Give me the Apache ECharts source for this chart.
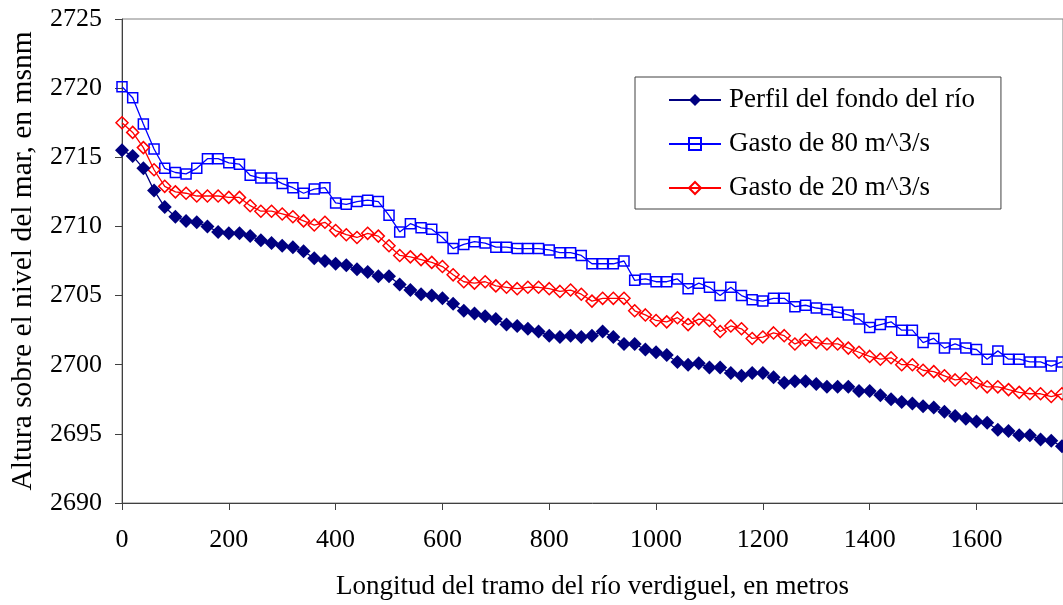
<!DOCTYPE html>
<html>
<head>
<meta charset="utf-8">
<script src="https://cdn.jsdelivr.net/npm/echarts@6/dist/echarts.min.js"></script>
<style>
html,body{margin:0;padding:0;background:#fff;}
#chart{width:1063px;height:605px;}
</style>
</head>
<body>
<div id="chart"></div>
<script>
// distances along the river, metres
var distances = [0,20,40,60,80,100,120,140,160,180,200,220,240,260,280,300,320,340,360,380,
400,420,440,460,480,500,520,540,560,580,600,620,640,660,680,700,720,740,760,780,
800,820,840,860,880,900,920,940,960,980,1000,1020,1040,1060,1080,1100,1120,1140,1160,1180,
1200,1220,1240,1260,1280,1300,1320,1340,1360,1380,1400,1420,1440,1460,1480,1500,1520,1540,1560,1580,
1600,1620,1640,1660,1680,1700,1720,1740,1760];

var fondo = [2715.5,2715.1,2714.2,2712.6,2711.4,2710.7,2710.4,2710.3,2710.0,2709.6,
2709.5,2709.5,2709.3,2709.0,2708.8,2708.6,2708.5,2708.2,2707.7,2707.5,
2707.3,2707.2,2706.9,2706.7,2706.4,2706.4,2705.8,2705.4,2705.1,2705.0,
2704.8,2704.4,2703.9,2703.7,2703.5,2703.3,2702.9,2702.8,2702.6,2702.4,
2702.1,2702.0,2702.1,2702.0,2702.1,2702.4,2702.0,2701.5,2701.5,2701.1,
2700.9,2700.7,2700.2,2700.0,2700.1,2699.8,2699.8,2699.4,2699.2,2699.4,
2699.4,2699.1,2698.7,2698.8,2698.8,2698.6,2698.4,2698.4,2698.4,2698.1,
2698.1,2697.8,2697.5,2697.3,2697.2,2697.0,2696.9,2696.6,2696.3,2696.1,
2695.9,2695.8,2695.3,2695.2,2694.9,2694.9,2694.6,2694.5,2694.1];

var gasto80 = [2720.1,2719.3,2717.4,2715.6,2714.2,2713.9,2713.8,2714.2,2714.9,2714.9,
2714.6,2714.5,2713.7,2713.5,2713.5,2713.1,2712.8,2712.4,2712.7,2712.8,
2711.7,2711.6,2711.8,2711.9,2711.8,2710.8,2709.6,2710.2,2709.9,2709.8,
2709.2,2708.4,2708.7,2708.9,2708.8,2708.5,2708.5,2708.4,2708.4,2708.4,
2708.3,2708.1,2708.1,2707.9,2707.3,2707.3,2707.3,2707.5,2706.1,2706.2,
2706.0,2706.0,2706.2,2705.5,2705.9,2705.6,2705.0,2705.6,2705.0,2704.7,
2704.6,2704.8,2704.8,2704.2,2704.3,2704.1,2704.0,2703.8,2703.6,2703.3,
2702.7,2702.9,2703.1,2702.5,2702.5,2701.6,2701.9,2701.2,2701.5,2701.2,
2701.1,2700.4,2701.0,2700.4,2700.4,2700.2,2700.2,2699.9,2700.2];

var gasto20 = [2717.5,2716.8,2715.7,2714.1,2712.9,2712.5,2712.4,2712.2,2712.2,2712.2,
2712.1,2712.1,2711.5,2711.1,2711.1,2710.9,2710.7,2710.4,2710.1,2710.3,
2709.7,2709.4,2709.2,2709.5,2709.3,2708.6,2707.9,2707.8,2707.6,2707.4,
2707.1,2706.5,2706.0,2705.9,2706.0,2705.7,2705.6,2705.5,2705.6,2705.6,
2705.5,2705.3,2705.4,2705.1,2704.6,2704.8,2704.8,2704.8,2703.9,2703.6,
2703.2,2703.1,2703.4,2702.9,2703.3,2703.2,2702.4,2702.8,2702.6,2701.9,
2702.0,2702.3,2702.1,2701.5,2701.8,2701.6,2701.5,2701.5,2701.2,2700.9,
2700.6,2700.4,2700.5,2700.0,2700.0,2699.6,2699.5,2699.2,2698.9,2699.0,
2698.7,2698.4,2698.4,2698.2,2698.0,2697.9,2697.9,2697.7,2697.9];

var seriesNames = ['Perfil del fondo del río','Gasto de 80 m^3/s','Gasto de 20 m^3/s'];

function pairs(ys){ return distances.map(function(x,i){ return [x, ys[i]]; }); }

var FONT = 'Liberation Serif';
var chart = echarts.init(document.getElementById('chart'), null, {renderer:'canvas'});
chart.setOption({
  animation:false,
  backgroundColor:'#ffffff',
  grid:{left:121, top:19, right:0, bottom:101, show:true, borderColor:'#808080', borderWidth:1, backgroundColor:'transparent'},
  legend:{
    orient:'vertical', left:635, top:77,
    padding:[8,26,6,33], itemGap:14, itemWidth:52, itemHeight:15,
    backgroundColor:'#ffffff', borderColor:'#404040', borderWidth:1,
    textStyle:{fontFamily:FONT, fontSize:27, color:'#000', lineHeight:30, padding:[0,0,0,3]},
    data:seriesNames
  },
  xAxis:{
    type:'value', min:0, max:1762, interval:200,
    name:'Longitud del tramo del río verdiguel, en metros',
    nameLocation:'middle', nameGap:70,
    nameTextStyle:{fontFamily:FONT, fontSize:27, color:'#000'},
    axisLine:{show:true, lineStyle:{color:'#404040', width:1}},
    axisTick:{show:true, inside:false, length:7, lineStyle:{color:'#404040'}},
    axisLabel:{fontFamily:FONT, fontSize:26, color:'#000', margin:24, showMaxLabel:false,
      formatter:function(v){ return v % 200 === 0 ? String(v) : ''; }},
    splitLine:{show:false}
  },
  yAxis:{
    type:'value', min:2690, max:2725, interval:5,
    name:'Altura sobre el nivel del mar, en msnm',
    nameLocation:'middle', nameGap:84, nameRotate:90,
    nameTextStyle:{fontFamily:FONT, fontSize:29.5, color:'#000'},
    axisLine:{show:true, lineStyle:{color:'#404040', width:1}},
    axisTick:{show:true, inside:false, length:7, lineStyle:{color:'#404040'}},
    axisLabel:{fontFamily:FONT, fontSize:26, color:'#000', margin:20,
      formatter:function(v){ return String(v); }},
    splitLine:{show:false}
  },
  series:[
    {name:seriesNames[0], type:'line', data:pairs(fondo), symbol:'diamond', symbolSize:14,
     lineStyle:{color:'#000080', width:1.3}, itemStyle:{color:'#000080', borderColor:'#000080', borderWidth:0}, z:3},
    {name:seriesNames[1], type:'line', data:pairs(gasto80), symbol:'rect', symbolSize:10,
     lineStyle:{color:'#0000ff', width:1.3}, itemStyle:{color:'rgba(255,255,255,0)', borderColor:'#0000ff', borderWidth:1.5}, z:2},
    {name:seriesNames[2], type:'line', data:pairs(gasto20), symbol:'diamond', symbolSize:12,
     lineStyle:{color:'#ff0000', width:1.3}, itemStyle:{color:'rgba(255,255,255,0)', borderColor:'#ff0000', borderWidth:1.5}, z:2}
  ]
});
</script>
</body>
</html>
